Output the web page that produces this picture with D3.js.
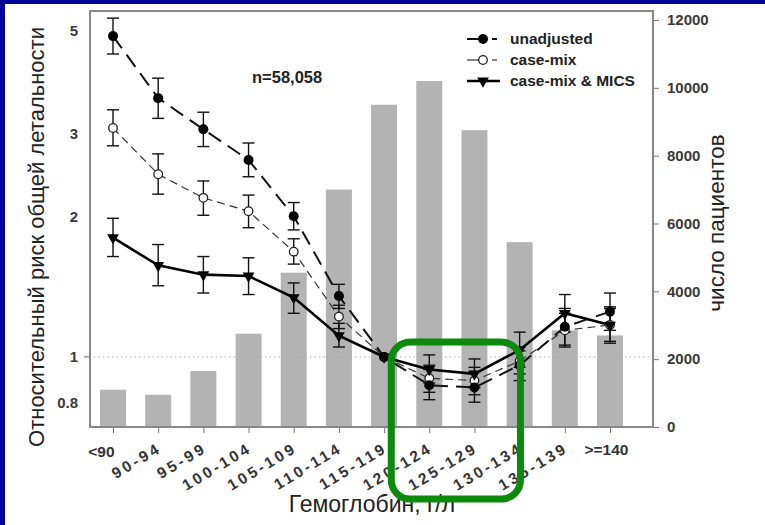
<!DOCTYPE html>
<html>
<head>
<meta charset="utf-8">
<script src="https://cdn.jsdelivr.net/npm/d3@7/dist/d3.min.js"></script>
<style>
  html, body { margin: 0; padding: 0; background: #02029a; }
  svg { display: block; }
  text { font-family: "Liberation Sans", Arial, sans-serif; }
</style>
</head>
<body>
<svg id="chart" width="765" height="525"></svg>
<script>
(function () {
  'use strict';

  // ── Data ────────────────────────────────────────────────────────────────────
  const categories = ['<90', '90-94', '95-99', '100-104', '105-109', '110-114',
    '115-119', '120-124', '125-129', '130-134', '135-139', '>=140'];

  // number of patients per hemoglobin group (right axis, bars)
  const patients = [1100, 950, 1650, 2750, 4550, 7000, 9500, 10200, 8750, 5450, 2850, 2700];

  // relative risk of all-cause mortality (left axis, log)
  const unadjusted   = [4.86, 3.58, 3.07, 2.64, 2.00, 1.35, 1.00, 0.87, 0.86, 0.96, 1.16, 1.25];
  const unadjustedLo = [4.45, 3.24, 2.82, 2.43, 1.87, 1.27, 1.00, 0.81, 0.80, 0.89, 1.06, 1.14];
  const unadjustedHi = [5.31, 3.95, 3.34, 2.87, 2.14, 1.43, 1.00, 0.94, 0.93, 1.03, 1.27, 1.37];

  const caseMix   = [3.09, 2.46, 2.19, 2.05, 1.68, 1.22, 1.00, 0.90, 0.89, 0.98, 1.14, 1.17];
  const caseMixLo = [2.83, 2.23, 2.01, 1.89, 1.58, 1.15, 1.00, 0.84, 0.83, 0.92, 1.05, 1.08];
  const caseMixHi = [3.38, 2.72, 2.38, 2.22, 1.79, 1.29, 1.00, 0.96, 0.95, 1.05, 1.24, 1.27];

  const mics   = [1.80, 1.57, 1.50, 1.49, 1.34, 1.11, 1.00, 0.94, 0.92, 1.035, 1.24, 1.17];
  const micsLo = [1.64, 1.42, 1.37, 1.36, 1.24, 1.05, 1.00, 0.88, 0.86, 0.95, 1.13, 1.07];
  const micsHi = [1.98, 1.74, 1.64, 1.63, 1.44, 1.18, 1.00, 1.01, 0.99, 1.13, 1.36, 1.28];

  const riskTicks = [0.8, 1, 2, 3, 5];
  const countTicks = [0, 2000, 4000, 6000, 8000, 10000, 12000];

  // ── Layout ──────────────────────────────────────────────────────────────────
  const W = 765, H = 525;
  const margin = { top: 11, right: 112, bottom: 98, left: 90 };
  const pw = W - margin.left - margin.right;
  const ph = H - margin.top - margin.bottom;

  const svg = d3.select('#chart');

  // white panel inside the blue slide border
  svg.append('rect')
    .attr('x', 5).attr('y', 4)
    .attr('width', W - 5).attr('height', H - 4)
    .attr('fill', '#fff');

  const g = svg.append('g')
    .attr('transform', `translate(${margin.left},${margin.top})`);

  const x = d3.scalePoint().domain(categories).range([23, 520]);
  const yRisk = d3.scaleLog().domain([0.708, 5.5]).range([ph, 0]);
  const yCount = d3.scaleLinear().domain([0, 12265]).range([ph, 0]);

  // ── Bars (patient counts) ───────────────────────────────────────────────────
  const barW = 26;
  g.append('g')
    .selectAll('rect')
    .data(patients)
    .join('rect')
    .attr('x', (d, i) => x(categories[i]) - barW / 2)
    .attr('y', d => yCount(d))
    .attr('width', barW)
    .attr('height', d => ph - yCount(d))
    .attr('fill', '#b3b3b3');

  // reference line at RR = 1
  g.append('line')
    .attr('x1', -5).attr('x2', pw)
    .attr('y1', yRisk(1)).attr('y2', yRisk(1))
    .attr('stroke', '#aaa')
    .attr('stroke-width', 1)
    .attr('stroke-dasharray', '1.5,3');
  g.append('line')
    .attr('x1', -6).attr('x2', 0)
    .attr('y1', yRisk(1)).attr('y2', yRisk(1))
    .attr('stroke', '#777');

  // ── Series ──────────────────────────────────────────────────────────────────
  const series = [
    { key: 'case-mix', values: caseMix, lo: caseMixLo, hi: caseMixHi,
      dash: '8,5', width: 1.2, color: '#333', marker: 'open' },
    { key: 'unadjusted', values: unadjusted, lo: unadjustedLo, hi: unadjustedHi,
      dash: '15,8', width: 2, color: '#111', marker: 'dot' },
    { key: 'case-mix & MICS', values: mics, lo: micsLo, hi: micsHi,
      dash: null, width: 2.6, color: '#000', marker: 'tri' }
  ];

  const line = d3.line()
    .x((d, i) => x(categories[i]))
    .y(d => yRisk(d));

  const triangle = d3.symbol().type(d3.symbolTriangle).size(60);

  function drawMarker(sel, kind) {
    if (kind === 'dot') {
      sel.append('circle').attr('r', 5).attr('fill', '#000');
    } else if (kind === 'open') {
      sel.append('circle').attr('r', 4.3)
        .attr('fill', '#fff').attr('stroke', '#222').attr('stroke-width', 1.3);
    } else {
      sel.append('path').attr('d', triangle())
        .attr('transform', 'rotate(180)')
        .attr('fill', '#000');
    }
  }

  series.forEach(s => {
    g.append('path')
      .datum(s.values)
      .attr('d', line)
      .attr('fill', 'none')
      .attr('stroke', s.color)
      .attr('stroke-width', s.width)
      .attr('stroke-dasharray', s.dash);
  });

  // error bars
  series.forEach(s => {
    const eb = g.append('g')
      .selectAll('g')
      .data(s.values.map((v, i) => ({ i, lo: s.lo[i], hi: s.hi[i] })).filter(d => d.hi > d.lo))
      .join('g')
      .attr('stroke', '#111')
      .attr('stroke-width', 1.4);
    eb.append('line')
      .attr('x1', d => x(categories[d.i])).attr('x2', d => x(categories[d.i]))
      .attr('y1', d => yRisk(d.lo)).attr('y2', d => yRisk(d.hi));
    eb.append('line')
      .attr('x1', d => x(categories[d.i]) - 6).attr('x2', d => x(categories[d.i]) + 6)
      .attr('y1', d => yRisk(d.lo)).attr('y2', d => yRisk(d.lo));
    eb.append('line')
      .attr('x1', d => x(categories[d.i]) - 6).attr('x2', d => x(categories[d.i]) + 6)
      .attr('y1', d => yRisk(d.hi)).attr('y2', d => yRisk(d.hi));
  });

  series.forEach(s => {
    const m = g.append('g')
      .selectAll('g')
      .data(s.values)
      .join('g')
      .attr('transform', (d, i) => `translate(${x(categories[i])},${yRisk(d)})`);
    drawMarker(m, s.marker);
  });

  // ── Axes ────────────────────────────────────────────────────────────────────
  const tickFont = sel => sel.selectAll('text')
    .attr('font-family', '"Liberation Sans", Arial, sans-serif')
    .attr('font-size', 15)
    .attr('font-weight', 'bold')
    .attr('fill', '#3a3a3a');

  const leftAxis = g.append('g')
    .call(d3.axisLeft(yRisk).tickValues(riskTicks).tickFormat(d3.format('')).tickSize(0).tickPadding(12))
    .call(tickFont);
  leftAxis.select('.domain').remove();

  const rightAxis = g.append('g')
    .attr('transform', `translate(${pw},0)`)
    .call(d3.axisRight(yCount).tickValues(countTicks).tickFormat(d3.format('d')).tickSize(6).tickPadding(8))
    .call(tickFont);
  rightAxis.select('.domain').remove();
  rightAxis.selectAll('line').attr('stroke', '#777');

  const bottomAxis = g.append('g')
    .attr('transform', `translate(0,${ph})`)
    .call(d3.axisBottom(x).tickSize(6))
    .call(tickFont);
  bottomAxis.select('.domain').remove();
  bottomAxis.selectAll('line').attr('stroke', '#777');
  bottomAxis.selectAll('text')
    .attr('font-size', 15.5)
    .attr('fill', '#333')
    .attr('letter-spacing', d => (d === '<90' || d === '>=140') ? 0 : 3)
    .attr('text-anchor', d => d === '>=140' ? 'middle' : 'end')
    .attr('dy', null)
    .attr('y', null)
    .attr('transform', d => {
      if (d === '<90') return 'translate(1,30)';
      if (d === '>=140') return 'translate(-4,28)';
      return 'translate(4,24) rotate(-31)';
    });

  // plot frame
  g.append('rect')
    .attr('width', pw).attr('height', ph)
    .attr('fill', 'none')
    .attr('stroke', '#888')
    .attr('stroke-width', 2);

  // ── Titles ──────────────────────────────────────────────────────────────────
  svg.append('text')
    .attr('transform', `translate(44,${margin.top + 226}) rotate(-90)`)
    .attr('text-anchor', 'middle')
    .attr('font-size', 22)
    .attr('fill', '#222')
    .text('Относительный риск общей летальности');

  svg.append('text')
    .attr('transform', `translate(724,${margin.top + 212}) rotate(-90)`)
    .attr('text-anchor', 'middle')
    .attr('font-size', 22.5)
    .attr('fill', '#222')
    .text('число пациентов');

  svg.append('text')
    .attr('x', 372).attr('y', 512)
    .attr('text-anchor', 'middle')
    .attr('font-size', 23)
    .attr('fill', '#222')
    .text('Гемоглобин, г/л');

  g.append('text')
    .attr('x', 162).attr('y', 72)
    .attr('font-size', 16.5)
    .attr('font-weight', 'bold')
    .attr('fill', '#222')
    .text('n=58,058');

  // ── Legend ──────────────────────────────────────────────────────────────────
  const legendOrder = ['unadjusted', 'case-mix', 'case-mix & MICS'];
  const legend = g.append('g').attr('transform', 'translate(377,28)');
  legendOrder.forEach((key, k) => {
    const s = series.find(d => d.key === key);
    const row = legend.append('g').attr('transform', `translate(0,${k * 21})`);
    row.append('line')
      .attr('x1', 0).attr('x2', s.marker === 'tri' ? 33 : 17)
      .attr('stroke', s.color)
      .attr('stroke-width', s.width);
    if (s.marker !== 'tri') {
      row.append('line')
        .attr('x1', 25).attr('x2', 30)
        .attr('stroke', s.color)
        .attr('stroke-width', s.width);
    }
    drawMarker(row.append('g').attr('transform', 'translate(16,0)'), s.marker);
    row.append('text')
      .attr('x', 43).attr('dy', '0.35em')
      .attr('font-size', 15.5)
      .attr('font-weight', 'bold')
      .attr('fill', '#222')
      .text(key);
  });

  // ── Highlight box round the 120-129 groups ─────────────────────────────────
  const bx0 = x('120-124') - 38, bx1 = x('125-129') + 46;
  svg.append('rect')
    .attr('x', margin.left + bx0).attr('y', 342)
    .attr('width', bx1 - bx0).attr('height', 157)
    .attr('rx', 19)
    .attr('fill', 'none')
    .attr('stroke', '#0b8a0b')
    .attr('stroke-width', 7);
})();
</script>
</body>
</html>
